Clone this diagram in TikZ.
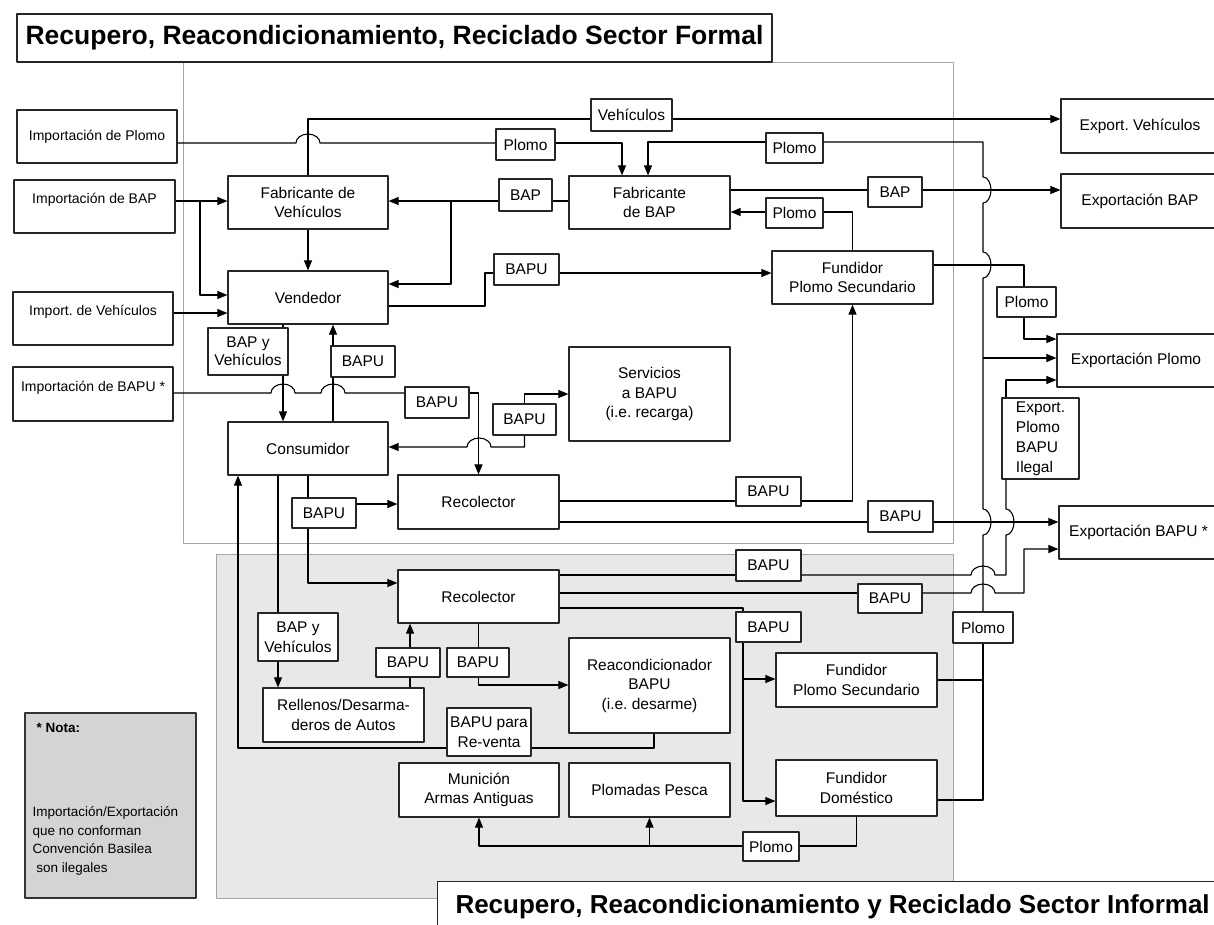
\documentclass[tikz,border=0pt]{standalone}
\usepackage{fontspec}
\setmainfont{Liberation Sans}
\usetikzlibrary{arrows.meta}
\frenchspacing

\begin{document}
\begin{tikzpicture}[x=1pt, y=-1pt, line width=1.1pt, line join=round,
    arr/.style={-{Triangle[length=10pt,width=8pt]}},
    box/.style={draw=black!85, line width=1.2pt, fill=white, inner sep=0pt, minimum width=161pt, minimum height=54pt, align=center, font=\fontsize{15.5}{19.5}\selectfont},
    inbox/.style={box, minimum width=160pt, minimum height=53pt, font=\fontsize{14}{16}\selectfont},
    outbox/.style={box, minimum width=158pt, minimum height=54pt},
    tag/.style={draw=black!85, line width=1.2pt, fill=white, inner sep=0pt, minimum width=64pt, minimum height=31pt, align=center, font=\fontsize{15.5}{19.5}\selectfont},
    title/.style={draw=black!85, line width=1.2pt, fill=white, inner sep=0pt, font=\fontsize{26.5}{30}\selectfont\bfseries}]
  \useasboundingbox (0,0) rectangle (1214,924);
  \clip (0,0) rectangle (1214,924);

  % sectors
  \draw[gray!70, line width=0.9pt] (183,62) rectangle (953,543);
  \filldraw[fill=black!9, draw=gray!70, line width=0.9pt] (216,554) rectangle (953,898);
  \node[title, minimum width=755pt, minimum height=48pt] (tFormal) at (394.5,38) {Recupero, Reacondicionamiento, Reciclado Sector Formal};
  \node[title, minimum width=790pt, minimum height=50pt, anchor=north west, font=\fontsize{26}{30}\selectfont\bfseries] (tInformal) at (437,881) {Recupero, Reacondicionamiento y Reciclado Sector Informal};

  % note
  \node[draw=black!80, line width=1.2pt, fill=black!17, minimum width=171pt, minimum height=185pt, inner sep=0pt] (nota) at (110.5,805.5) {};
  \node[anchor=west, inner sep=0pt, font=\fontsize{13.5}{16}\selectfont\bfseries] (notaHead) at (36,728) {* Nota:};
  \node[anchor=west, inner sep=0pt, align=left, font=\fontsize{13.5}{18.7}\selectfont] (notaText) at (32,841) {Importación/Exportación\\que no conforman\\Convención Basilea\\\ son ilegales};

  % imports
  \node[inbox] (impPb) at (97,136.5) {Importación de Plomo};
  \node[inbox, minimum width=161pt] (impBAP) at (94.5,206.5) {Importación de BAP\\ \mbox{}};
  \node[inbox] (impVeh) at (93,318.5) {Import. de Vehículos\\ \mbox{}};
  \node[inbox, minimum height=54pt] (impBAPU) at (93,394) {Importación de BAPU *\\ \mbox{}};

  % formal sector
  \node[box, minimum width=160pt, minimum height=53pt] (fabVeh) at (308,202.5) {Fabricante de\\Vehículos};
  \node[box, minimum width=160pt, minimum height=53pt] (vend) at (308,297.5) {Vendedor};
  \node[box, minimum width=160pt, minimum height=53pt] (cons) at (308,448.5) {Consumidor};
  \node[box, minimum height=53pt] (fabBAP) at (649.5,202.5) {Fabricante\\de BAP};
  \node[box, minimum height=53pt] (fundF) at (852.5,277.5) {Fundidor\\Plomo Secundario};
  \node[box, minimum height=94pt] (serv) at (649.5,394) {Servicios\\a BAPU\\(i.e. recarga)};
  \node[box] (recF) at (478.5,502) {Recolector};

  % informal sector
  \node[box, minimum height=53pt] (recI) at (478.5,596.5) {Recolector};
  \node[box] (rell) at (343.5,715) {Rellenos/Desarma-\\deros de Autos};
  \node[box, minimum height=95pt] (reac) at (649.5,685.5) {Reacondicionador\\BAPU\\(i.e. desarme)};
  \node[box] (fundI) at (856.5,680) {Fundidor\\Plomo Secundario};
  \node[box, minimum height=56pt] (fundD) at (856.5,788) {Fundidor\\Doméstico};
  \node[box] (plom) at (649.5,790) {Plomadas Pesca};
  \node[box, minimum width=160pt] (muni) at (479,790) {Munición\\Armas Antiguas};

  % exports
  \node[outbox] (expVeh) at (1140,126) {Export. Vehículos};
  \node[outbox] (expBAP) at (1140,201) {Exportación BAP};
  \node[outbox, minimum height=53pt] (expPb) at (1136,360.5) {Exportación Plomo};
  \node[outbox, minimum width=159pt, minimum height=53pt] (expBAPU) at (1138.5,532.5) {Exportación BAPU *};

  % flow tags
  \node[tag, minimum width=81pt, minimum height=32pt] (lVeh) at (631.5,115) {Vehículos};
  \node[tag, minimum width=59pt] (lPb1) at (525.5,144.5) {Plomo};
  \node[tag, minimum width=57pt, minimum height=30pt] (lPb2) at (794.5,148) {Plomo};
  \node[tag, minimum width=53pt, minimum height=32pt] (lBAP1) at (525.5,195) {BAP};
  \node[tag, minimum width=54pt, minimum height=30pt] (lBAP2) at (895,192) {BAP};
  \node[tag, minimum width=57pt, minimum height=30pt] (lPb3) at (794.5,213) {Plomo};
  \node[tag, minimum width=65pt] (lBAPU1) at (526.5,269.5) {BAPU};
  \node[tag, minimum width=59pt, minimum height=30pt] (lPb4) at (1026.5,302) {Plomo};
  \node[tag, minimum width=80pt, minimum height=47pt, font=\fontsize{15.5}{18}\selectfont] (lBV1) at (248,351.5) {BAP y\\Vehículos};
  \node[tag] (lBAPU2) at (363,361.5) {BAPU};
  \node[tag] (lBAPU3) at (437,402.5) {BAPU};
  \node[tag, minimum width=63pt] (lBAPU4) at (524.5,419.5) {BAPU};
  \node[tag, minimum width=77pt, minimum height=81pt, align=left, font=\fontsize{15.5}{20}\selectfont] (lIleg) at (1040.5,438.5) {Export.\\Plomo\\BAPU\\Ilegal};
  \node[tag, minimum width=65pt, minimum height=29pt] (lBAPU5) at (768.5,491.5) {BAPU};
  \node[tag, minimum height=30pt] (lBAPU6) at (324,513) {BAPU};
  \node[tag, minimum width=65pt] (lBAPU7) at (900.5,516.5) {BAPU};
  \node[tag, minimum width=65pt] (lBAPU8) at (768.5,565.5) {BAPU};
  \node[tag, minimum height=29pt] (lBAPU9) at (890,598.5) {BAPU};
  \node[tag, minimum width=65pt, minimum height=30pt] (lBAPU10) at (768.5,627) {BAPU};
  \node[tag, minimum width=60pt] (lPb5) at (983,627.5) {Plomo};
  \node[tag, minimum width=80pt, minimum height=48pt, font=\fontsize{15.5}{20}\selectfont] (lBV2) at (298,637) {BAP y\\Vehículos};
  \node[tag, minimum height=29pt] (lBAPU11) at (408,662.5) {BAPU};
  \node[tag, minimum width=62pt, minimum height=29pt] (lBAPU12) at (478,662.5) {BAPU};
  \node[tag, minimum width=84pt, minimum height=48pt, font=\fontsize{15.5}{20}\selectfont] (lReventa) at (489,732) {BAPU para\\Re-venta};
  \node[tag, minimum width=56pt, minimum height=29pt] (lPb6) at (771,846.5) {Plomo};

  % branch points
  \coordinate (jBAP) at (451,201);
  \coordinate (jImp) at (200,201);
  \coordinate (jPb) at (983,358);
  \coordinate (jFund) at (743,679);

  % imports to formal sector
  \draw (impPb.east |- 0,143) -- (296,143) arc[start angle=180, end angle=0, x radius=12pt, y radius=9pt] -- (lPb1.west |- 0,143);
  \draw[arr] (lPb1.east |- 0,143) -| (622,0 |- fabBAP.north);
  \draw[arr] (impBAP.east |- 0,201) -- (fabVeh.west |- 0,201);
  \draw[arr] (jImp) |- (vend.west |- 0,295);
  \draw[arr] (impVeh.east |- 0,313) -- (vend.west |- 0,313);
  \draw (impBAPU.east |- 0,393) -- (271,393) arc[start angle=180, end angle=0, x radius=12pt, y radius=9pt]
    -- (321,393) arc[start angle=180, end angle=0, x radius=12pt, y radius=9pt] -- (lBAPU3.west |- 0,393);
  \draw[arr] (lBAPU3.east |- 0,393) -| (recF.north);

  % formal sector flows
  \draw (fabVeh.north) |- (lVeh.west |- 0,119);
  \draw[arr] (lVeh.east |- 0,119) -- (expVeh.west |- 0,119);
  \draw[arr] (fabVeh.south) -- (vend.north);
  \draw (fabBAP.west |- 0,201) -- (lBAP1.east |- 0,201);
  \draw[arr] (lBAP1.west |- 0,201) -- (fabVeh.east |- 0,201);
  \draw[arr] (jBAP) |- (vend.east |- 0,284);
  \draw (vend.east |- 0,306) -| (485,273) -- (lBAPU1.west |- 0,273);
  \draw[arr] (lBAPU1.east |- 0,273) -- (fundF.west |- 0,273);
  \draw (fundF.north) |- (lPb3.east |- 0,212);
  \draw[arr] (lPb3.west |- 0,212) -- (fabBAP.east |- 0,212);
  \draw (fabBAP.east |- 0,190) -- (lBAP2.west |- 0,190);
  \draw[arr] (lBAP2.east |- 0,190) -- (expBAP.west |- 0,190);
  \draw (fundF.east |- 0,265) -| (1024,0 |- lPb4.north);
  \draw[arr] (1024,0 |- lPb4.south) |- (expPb.west |- 0,339);
  \draw (283,0 |- vend.south) -- (283,0 |- lBV1.north);
  \draw[arr] (283,0 |- lBV1.south) -- (283,0 |- cons.north);
  \draw (333,0 |- cons.north) -- (333,0 |- lBAPU2.south);
  \draw[arr] (333,0 |- lBAPU2.north) -- (333,0 |- vend.south);
  \draw[arr] (lBAPU4.north) |- (serv.west);
  \draw[arr] (lBAPU4.south) |- (491,447) arc[start angle=0, end angle=180, x radius=12pt, y radius=9pt] -- (cons.east |- 0,447);
  \draw (cons.south) -- (cons.south |- lBAPU6.north);
  \draw[arr] (lBAPU6.east |- 0,504) -- (recF.west |- 0,504);
  \draw (recF.east |- 0,501) -- (lBAPU5.west |- 0,501);
  \draw[arr] (lBAPU5.east |- 0,501) -| (fundF.south);
  \draw (recF.east |- 0,522) -- (lBAPU7.west |- 0,522);
  \draw[arr] (lBAPU7.east |- 0,522) -- (expBAPU.west |- 0,522);

  % lead rail to the right
  \draw (lPb5.north) -- (983,535) arc[start angle=-90, end angle=90, x radius=8pt, y radius=13pt]
    -- (983,278) arc[start angle=-90, end angle=90, x radius=8pt, y radius=13pt]
    -- (983,203) arc[start angle=-90, end angle=90, x radius=8pt, y radius=13pt]
    -- (983,142) -- (lPb2.east |- 0,142);
  \draw[arr] (lPb2.west |- 0,142) -| (648,0 |- fabBAP.north);
  \draw[arr] (jPb) -- (expPb.west |- jPb);
  \draw (fundI.east) -| (lPb5.south);
  \draw (fundD.east |- 0,800) -| (lPb5.south);

  % consumer to informal sector
  \draw[arr] (cons.south |- lBAPU6.south) |- (recI.west |- 0,583);
  \draw (278,0 |- cons.south) -- (278,0 |- lBV2.north);
  \draw[arr] (278,0 |- lBV2.south) -- (278,0 |- rell.north);
  \draw (410,0 |- rell.north) -- (410,0 |- lBAPU11.south);
  \draw[arr] (410,0 |- lBAPU11.north) -- (410,0 |- recI.south);
  \draw (recI.south) -- (recI.south |- lBAPU12.north);
  \draw[arr] (recI.south |- lBAPU12.south) |- (reac.west |- 0,685);
  \draw (654,0 |- reac.south) |- (lReventa.east |- 0,748);
  \draw[arr] (lReventa.west |- 0,748) -| (238,0 |- cons.south);

  % informal collector outputs
  \draw (recI.east |- 0,575) -- (lBAPU8.west |- 0,575);
  \draw (lBAPU8.east |- 0,575) -- (971,575) arc[start angle=180, end angle=0, x radius=12pt, y radius=9pt]
    -- (1006,575) -- (1006,535) arc[start angle=-90, end angle=90, x radius=8pt, y radius=13pt] -- (1006,0 |- lIleg.south);
  \draw[arr] (1006,0 |- lIleg.north) |- (expPb.west |- 0,380);
  \draw (recI.east |- 0,593) -- (lBAPU9.west |- 0,593);
  \draw[arr] (lBAPU9.east |- 0,593) -- (971,593) arc[start angle=180, end angle=0, x radius=12pt, y radius=9pt]
    -- (1024,593) |- (expBAPU.west |- 0,549);
  \draw (recI.east |- 0,608) -| (743,0 |- lBAPU10.north);
  \draw[arr] (743,0 |- lBAPU10.south) |- (fundI.west |- jFund);
  \draw[arr] (743,0 |- lBAPU10.south) |- (fundD.west |- 0,801);
  \draw (fundD.south) |- (lPb6.east |- 0,846);
  \draw[arr] (lPb6.west |- 0,846) -| (muni.south);
  \draw[arr] (plom.south |- 0,846) -- (plom.south);
\end{tikzpicture}
\end{document}
